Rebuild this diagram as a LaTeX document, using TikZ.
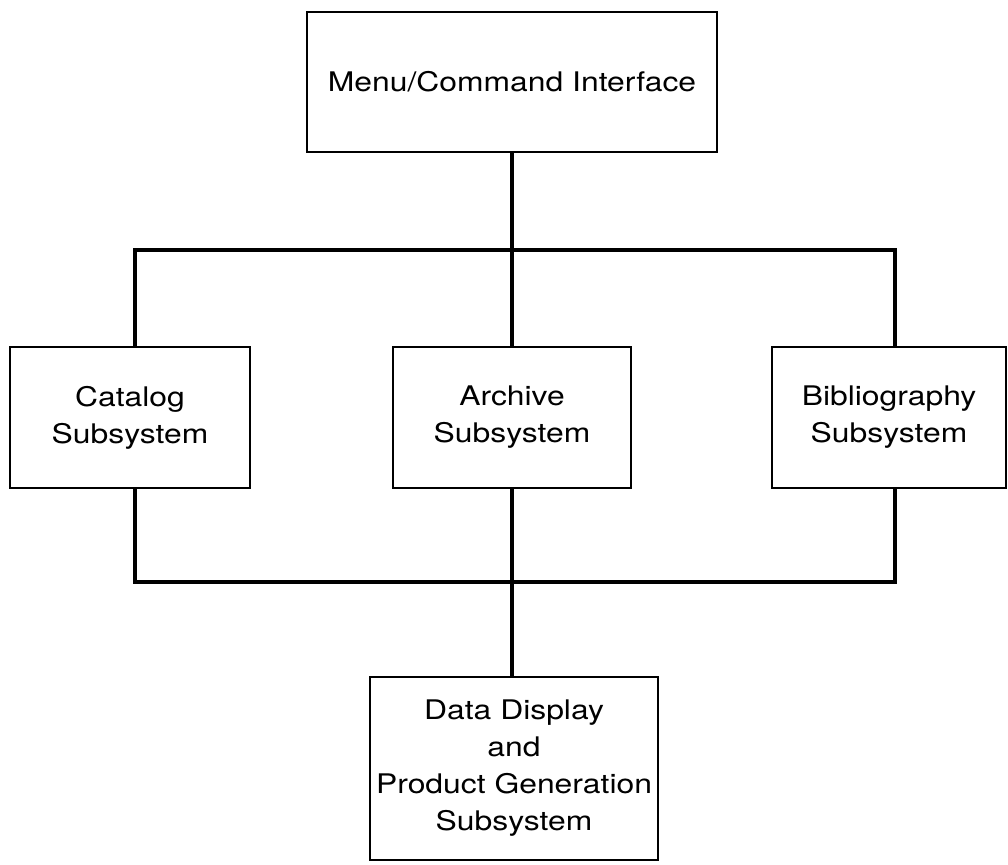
\documentclass[tikz,border=0pt]{standalone}
\usepackage{fontspec}
\setmainfont[FakeStretch=1.18]{TeX Gyre Heros}
\begin{document}
\begin{tikzpicture}[x=1pt,y=-1pt,
  box/.style={draw, line width=2.6pt, rectangle, align=center, inner sep=0pt,
    font=\fontsize{27}{37}\selectfont},
  conn/.style={line width=4pt, line join=miter}]
\useasboundingbox (0,0) rectangle (1008,864);
\node[box, minimum width=410pt, minimum height=140pt] (top) at (512,82) {Menu/Command Interface};
\node[box, minimum width=240pt, minimum height=141pt] (cat) at (130,417.5) {Catalog\\Subsystem};
\node[box, minimum width=238pt, minimum height=141pt] (arc) at (512,417.5) {Archive\\Subsystem};
\node[box, minimum width=234pt, minimum height=141pt] (bib) at (889,417.5) {Bibliography\\Subsystem};
\node[box, minimum width=288pt, minimum height=183pt] (dd) at (514,768.5) {Data Display\\and\\Product Generation\\Subsystem};
\coordinate (tL) at (135,250);
\coordinate (tR) at (895,250);
\coordinate (bL) at (135,582);
\coordinate (bR) at (895,582);
\draw[conn] (top.south) -- (arc.north);
\draw[conn] (cat.north -| tL) -- (tL) -- (tR) -- (bib.north -| tR);
\draw[conn] (cat.south -| bL) -- (bL) -- (bR) -- (bib.south -| bR);
\draw[conn] (arc.south) -- (arc.south |- dd.north);
\end{tikzpicture}
\end{document}
